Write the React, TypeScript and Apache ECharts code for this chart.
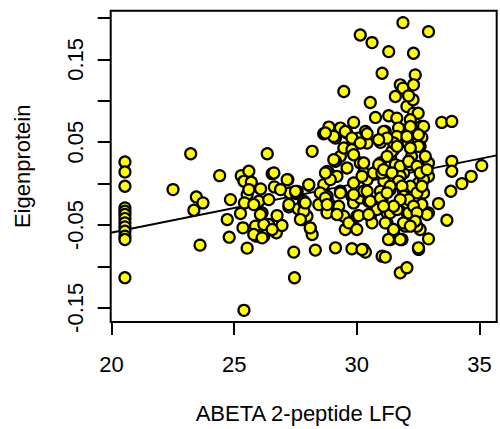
import React, { useEffect, useRef } from "react";
import * as echarts from "echarts";

const X_TICKS = [20, 25, 30, 35];
const Y_TICKS = [-0.15, -0.1, -0.05, 0, 0.05, 0.1, 0.15, 0.2];
const Y_LABELS = [-0.15, -0.05, 0.05, 0.15];
const X_MIN = 19.97;
const X_MAX = 35.7;
const Y_MIN = -0.1671;
const Y_MAX = 0.2088;

const FIT_INTERCEPT = -0.1781;
const FIT_SLOPE = 0.005944;

const leftColumnY = [0.0261, 0.0141, -0.0032, -0.0293, -0.0333, -0.0373, -0.0422, -0.0474, -0.0522, -0.0575, -0.0635, -0.0675, -0.1136];
const leftColumnX = 20.55;

const leftSparse = [
  [22.51, -0.0072], [23.23, 0.0361], [23.46, -0.0161], [23.73, -0.0233], [23.36, -0.0321], [23.61, -0.0743], [24.41, 0.0096],
];

const cluster25to28 = [
  [24.85, -0.0193], [24.72, -0.0434], [24.8, -0.0647], [25.29, 0.0096], [25.4, 0.0028], [25.6, 0.0149], [25.7, 0.0016],
  [25.53, -0.0133], [25.42, -0.0233], [25.26, -0.0361], [25.36, -0.0534], [25.53, -0.0779], [25.4, -0.153], [25.87, -0.0514],
  [25.91, -0.0635], [26.08, -0.0064], [26.01, -0.0213], [26.14, -0.0353], [26.21, -0.0635], [26.35, 0.0361], [26.41, -0.0193],
  [26.55, 0.012], [26.35, -0.0554], [26.41, -0.0494], [26.64, -0.004], [26.75, -0.0386], [26.72, -0.0594], [26.95, -0.0506],
  [27.19, 0.0048], [27.23, -0.0281], [27.27, -0.0112], [27.43, -0.0827], [27.46, -0.1137], [27.53, -0.012], [27.61, -0.0305],
  [27.77, -0.0434], [27.84, -0.0233], [28.04, -0.002], [28.18, 0.039], [28.11, -0.0546], [28.18, -0.0614], [28.31, -0.0803],
  [27.97, -0.0394], [25.6, -0.0072], [25.8, -0.0253], [26.21, -0.0494], [26.55, -0.0554], [27.84, -0.0333], [26.07, -0.0373],
  [25.8, -0.0614], [26.14, -0.0655], [27.57, -0.0093], [27.7, -0.0434], [26.62, 0.0129], [27.16, 0.0048], [26.89, -0.0072],
  [27.5, -0.0093], [27.84, -0.0213], [27.23, -0.0253],
];

const midCluster = [
  [28.65, 0.0602], [28.86, 0.0683], [29.33, 0.0671], [29.47, 0.1112], [29.87, 0.0739], [29.13, 0.055], [29.33, 0.0329],
  [29.47, 0.043], [29.6, 0.061], [29.8, 0.041], [29.13, 0.0269], [29.6, 0.0189], [28.86, 0.0129], [28.65, -0.0012],
  [28.79, -0.0153], [28.65, -0.0213], [28.86, -0.0253], [28.79, -0.0345], [29.19, 0.0088], [29.26, -0.0273], [29.33, -0.0092],
  [29.47, -0.0394], [29.53, -0.0554], [29.67, -0.0474], [29.13, -0.0775], [29.8, -0.0787], [30.28, -0.0795], [30.35, -0.0827],
  [29.8, -0.0153], [29.87, -0.0233], [30.0, -0.0394], [30.0, -0.0554], [30.14, -0.0173], [30.07, 0.055], [30.14, 0.1795],
  [30.62, 0.1703], [30.55, 0.098], [30.76, 0.0799], [30.35, 0.0631], [30.42, 0.049], [30.14, 0.0249], [30.28, 0.0129],
  [30.42, 0.0048], [30.28, -0.0092], [30.48, -0.0213], [30.55, -0.0394], [30.62, -0.0474], [30.82, -0.0313],
  [29.53, 0.063], [30.42, 0.0602], [29.06, 0.057], [28.72, 0.0611], [29.8, 0.055], [30.14, 0.049], [29.06, 0.0289],
  [30.28, 0.0249], [28.79, 0.0148], [28.04, -0.0012], [29.87, 0.0008], [30.21, 0.0088], [30.42, -0.0093], [29.87, 0.0349],
  [30.68, 0.0129], [28.92, 0.0048], [27.9, -0.0233], [28.1, -0.0534], [28.85, -0.0233], [28.79, -0.0353], [29.19, -0.0373],
  [30.07, -0.0386], [29.33, -0.0112], [29.87, -0.0133], [30.55, -0.0213], [30.48, -0.0373], [30.21, -0.0795], [28.45, -0.0253],
  [28.51, -0.0112], [28.72, 0.0129], [28.72, -0.0173], [28.79, -0.0253],
];

const rightCluster = [
  [31.03, 0.1333], [31.3, 0.1594], [31.03, -0.0876], [31.16, -0.0888], [31.3, 0.0819], [31.16, 0.0631], [30.96, 0.0498],
  [30.96, 0.0249], [31.1, 0.0028], [31.03, -0.0193], [31.23, -0.0353], [31.23, -0.0474], [31.37, -0.0675], [31.5, -0.0574],
  [31.57, 0.1052], [31.77, 0.1193], [31.88, 0.1153], [31.88, 0.1944], [31.77, -0.1076], [32.04, -0.1016], [31.84, -0.0675],
  [31.98, -0.0514], [31.63, 0.0791], [31.7, 0.0671], [32.04, 0.0932], [32.29, 0.1012], [32.31, 0.1574], [32.38, 0.1313],
  [32.31, 0.1193], [32.31, 0.0851], [32.2, 0.0691], [32.61, 0.0691], [32.65, 0.0558], [32.72, 0.0691], [32.58, 0.045],
  [32.92, 0.1835], [32.92, 0.0249], [32.92, 0.0088], [32.92, -0.0353], [32.92, -0.0667], [32.52, -0.0795], [32.58, -0.0554],
  [32.65, -0.0253], [32.72, -0.0112], [32.52, 0.0008], [32.11, -0.0092], [32.04, -0.0353], [31.98, -0.0233], [31.91, 0.0129],
  [31.5, 0.041], [31.37, 0.0329], [31.57, 0.0229], [31.77, 0.0209], [32.16, 0.0229], [32.23, 0.0329], [32.09, 0.049],
  [32.11, 0.106], [32.5, 0.085], [32.18, 0.0771], [31.09, 0.063], [32.18, 0.069], [31.63, 0.057],
  [31.02, 0.0129], [31.43, 0.039], [31.5, 0.049], [31.77, 0.0088], [32.11, 0.0269], [32.18, -0.0032], [32.51, 0.045],
  [32.51, 0.059], [32.65, 0.0169], [32.72, 0.0048], [32.04, 0.057], [31.23, 0.055], [30.89, 0.053], [30.96, -0.0093],
  [31.36, -0.0072], [31.9, -0.0112], [32.45, -0.0112], [32.18, 0.043],
  [30.96, -0.0173], [31.16, -0.0474], [31.36, -0.0353], [31.5, -0.0554], [31.29, -0.0675], [31.77, -0.0675], [32.04, -0.0233],
  [32.11, -0.0353], [31.9, -0.0474], [32.45, -0.0514], [32.86, -0.0373], [32.51, -0.0775], [31.64, -0.0313],
  [30.89, 0.0229], [31.09, 0.0169], [31.23, 0.0329], [31.43, 0.0129], [31.64, 0.045], [31.7, 0.0028], [31.84, -0.0032],
  [31.91, -0.0153], [32.11, -0.0193], [32.31, -0.0273], [32.45, -0.0353], [32.38, -0.0454], [32.18, -0.0514], [31.77, -0.0193],
  [31.5, -0.0273], [31.36, -0.0032], [31.23, -0.0112], [31.09, -0.0273], [32.45, 0.0209], [32.58, 0.0129], [32.79, 0.0329],
  [32.86, 0.0169], [32.65, -0.0032],
];

const farRight = [
  [33.33, -0.0241], [33.46, 0.0739], [33.87, 0.0751], [33.87, 0.0269], [33.87, 0.0149], [33.83, -0.0092], [33.67, -0.0442],
  [34.28, 0.0], [34.66, 0.0088], [35.09, 0.0217],
];

const FONT = "'Liberation Sans', Arial, Helvetica, sans-serif";

export default function App() {
  const ref = useRef<HTMLDivElement>(null);

  useEffect(() => {
    if (!ref.current) return;
    const chart = echarts.init(ref.current, null, { renderer: "svg" });

    const points = [
      ...leftColumnY.map((y) => [leftColumnX, y]),
      ...leftSparse,
      ...cluster25to28,
      ...midCluster,
      ...rightCluster,
      ...farRight,
    ];
    const fitLine = [
      [X_MIN, FIT_INTERCEPT + FIT_SLOPE * X_MIN],
      [X_MAX, FIT_INTERCEPT + FIT_SLOPE * X_MAX],
    ];

    const textStyle = { fontFamily: FONT, fontSize: 22, color: "#000" };

    chart.setOption({
      animation: false,
      grid: {
        left: 110.7,
        top: 10.7,
        right: 3.3,
        bottom: 106.3,
        show: true,
        borderColor: "#000",
        borderWidth: 2,
        backgroundColor: "transparent",
      },
      xAxis: {
        type: "value",
        min: X_MIN,
        max: X_MAX,
        axisLine: { show: false, onZero: false },
        axisTick: {
          show: true,
          length: 13,
          lineStyle: { color: "#000", width: 2 },
          customValues: X_TICKS,
        },
        axisLabel: {
          ...textStyle,
          customValues: X_TICKS,
          margin: 31,
          formatter: (v: number) => String(Math.round(v)),
        },
        splitLine: { show: false },
        name: "ABETA 2-peptide LFQ",
        nameLocation: "middle",
        nameGap: 80,
        nameTextStyle: textStyle,
      },
      yAxis: {
        type: "value",
        min: Y_MIN,
        max: Y_MAX,
        axisLine: { show: false, onZero: false },
        axisTick: {
          show: true,
          length: 13,
          lineStyle: { color: "#000", width: 2 },
          customValues: Y_TICKS,
        },
        axisLabel: {
          ...textStyle,
          customValues: Y_LABELS,
          rotate: 90,
          margin: 24,
          formatter: (v: number) => v.toFixed(2),
        },
        splitLine: { show: false },
        name: "Eigenprotein",
        nameLocation: "middle",
        nameGap: 77,
        nameTextStyle: textStyle,
      },
      series: [
        {
          type: "line",
          data: fitLine,
          symbol: "none",
          lineStyle: { color: "#000", width: 2 },
          z: 1,
          silent: true,
        },
        {
          type: "scatter",
          data: points,
          symbol: "circle",
          symbolSize: 11,
          itemStyle: { color: "#FFFF00", borderColor: "#000", borderWidth: 2.2, opacity: 1 },
          z: 2,
        },
      ],
    });

    return () => chart.dispose();
  }, []);

  return (
    <div
      ref={ref}
      style={{ position: "absolute", left: 0, top: 0, width: 500, height: 429, background: "#fff" }}
    />
  );
}
